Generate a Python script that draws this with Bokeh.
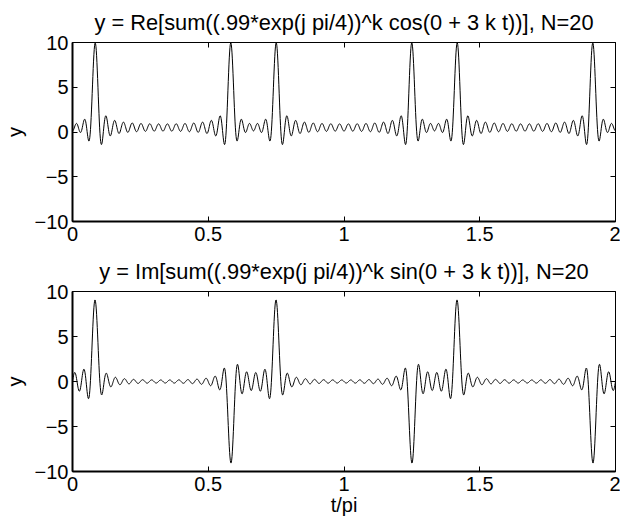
import numpy as np
from bokeh.plotting import figure
from bokeh.layouts import column
from bokeh.models import LinearAxis, FixedTicker, Range1d, CustomLabelingPolicy
from bokeh.embed import file_html
from bokeh.resources import INLINE

# Signal definition (as stated in the chart titles)
N = 20
radius = 0.99
phase = np.pi / 4
freq = 3
k = np.arange(0, N + 1)
t_over_pi = np.linspace(0, 2, 1601)

titles = [
    "y = Re[sum((.99*exp(j pi/4))^k cos(0 + 3 k t))], N=20",
    "y = Im[sum((.99*exp(j pi/4))^k sin(0 + 3 k t))], N=20",
]
x_ticks = [0, 0.5, 1, 1.5, 2]
x_tick_labels = ["0", "0.5", "1", "1.5", "2"]
y_ticks = [-10, -5, 0, 5, 10]
y_tick_labels = ["\u221210", "\u22125", "0", "5", "10"]

t = np.pi * t_over_pi
coef = (radius * np.exp(1j * phase)) ** k
y_re = np.real((coef[:, None] * np.cos(freq * k[:, None] * t[None, :])).sum(axis=0))
y_im = np.imag((coef[:, None] * np.sin(freq * k[:, None] * t[None, :])).sum(axis=0))

FONT = "Liberation Sans"
TICK_FS = "20px"


def make(title, y, height, top, bottom, xlabel=None):
    p = figure(width=620, height=height, output_backend="svg", toolbar_location=None,
               x_range=Range1d(0, 2), y_range=Range1d(-10, 10),
               min_border_left=70, min_border_right=5,
               min_border_top=top, min_border_bottom=bottom)
    p.title.text = title
    p.title.text_font = FONT
    p.title.text_font_size = "21.8px"
    p.title.text_font_style = "normal"
    p.title.align = "center"
    p.title.offset = 5
    p.title.text_color = "black"
    p.title.standoff = 15
    p.grid.visible = False
    p.outline_line_color = "black"
    p.outline_line_width = 1
    p.line(t_over_pi, y, line_color="black", line_width=1)

    for ax, ticks, labels in ((p.xaxis[0], x_ticks, x_tick_labels), (p.yaxis[0], y_ticks, y_tick_labels)):
        ax.ticker = FixedTicker(ticks=ticks)
        ax.major_label_overrides = {tk: lb for tk, lb in zip(ticks, labels)}
        ax.major_tick_in = 5
        ax.major_tick_out = 0
        ax.minor_tick_line_color = None
        ax.axis_line_width = 2
        ax.axis_line_color = "black"
        ax.major_tick_line_color = "black"
        ax.major_label_text_font = FONT
        ax.major_label_text_font_size = TICK_FS
        ax.major_label_text_color = "black"
        ax.axis_label_text_font = FONT
        ax.axis_label_text_font_size = TICK_FS
        ax.axis_label_text_font_style = "normal"
        ax.axis_label_text_color = "black"
    p.xaxis[0].major_label_standoff = 5
    p.yaxis[0].major_label_standoff = 4
    p.yaxis[0].axis_label = "y"
    p.yaxis[0].axis_label_standoff = 6
    if xlabel:
        p.xaxis[0].axis_label = xlabel
        p.xaxis[0].axis_label_standoff = 0

    for side, ticks in (("above", x_ticks), ("right", y_ticks)):
        ax = LinearAxis(ticker=FixedTicker(ticks=ticks),
                        major_label_policy=CustomLabelingPolicy(
                            code="for (const i of [...indices]) { indices.unset(i) }\nreturn indices"),
                        major_label_text_font_size="0px",
                        major_label_standoff=0, major_tick_in=5, major_tick_out=0,
                        minor_tick_line_color=None, axis_line_color=None,
                        major_tick_line_color="black")
        p.add_layout(ax, side)
    return p


p1 = make(titles[0], y_re, 249, 40, 28)
p2 = make(titles[1], y_im, 273, 40, 51, xlabel="t/pi")
layout = column(p1, p2)

open("out.html", "w").write(file_html(layout, INLINE))
